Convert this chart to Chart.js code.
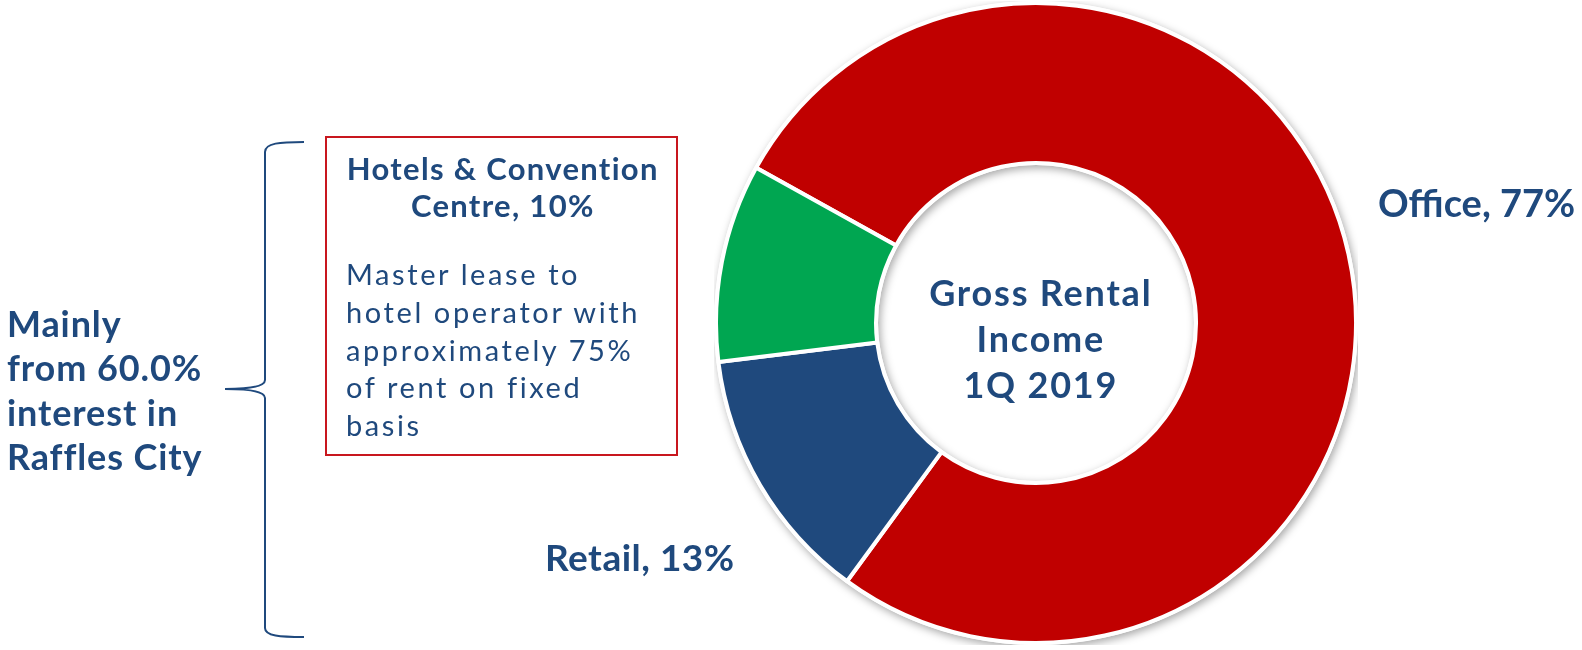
<!DOCTYPE html>
<html>
<head>
<meta charset="utf-8">
<script src="https://cdn.jsdelivr.net/npm/chart.js@4.4.1/dist/chart.umd.min.js"></script>
<style>
  html, body { margin: 0; padding: 0; background: #fff; overflow: hidden; }
  body { width: 1582px; height: 650px; position: relative; font-family: Lato, "Open Sans", sans-serif; color: #1F497D; }
  .abs { position: absolute; white-space: nowrap; }
  #chartBox { position: absolute; left: 714px; top: 1px; width: 644px; height: 644px; }
  #office { left: 1378px; top: 183px; font-size: 38px; line-height: 38px; font-weight: 700; }
  #retail { left: 545px; top: 538px; font-size: 37px; line-height: 37px; font-weight: 700; letter-spacing: 0.5px; }
  #center { left: 889px; top: 269px; width: 300px; padding-left: 1.8px; text-align: center; font-size: 36px; line-height: 46px; font-weight: 700; letter-spacing: 1.8px; }
  #note { left: 325px; top: 136px; width: 353px; height: 320px; box-sizing: border-box; border: 2px solid #C8171E; }
  #noteHead { left: 327px; top: 149.5px; width: 349px; padding-left: 1.3px; text-align: center; font-size: 31px; line-height: 37px; font-weight: 700; letter-spacing: 1.3px; }
  #noteBody { left: 346px; top: 255px; font-size: 29px; line-height: 37.75px; font-weight: 400; letter-spacing: 2.6px; }
  #side { left: 7px; top: 301px; font-size: 36px; line-height: 44.3px; font-weight: 700; letter-spacing: 0.9px; }
  #brace { position: absolute; left: 0; top: 0; }
</style>
</head>
<body>
<div id="chartBox"><canvas id="incomeChart"></canvas></div>

<svg id="brace" width="1582" height="650">
  <path d="M304,142 C280,142 265,143 265,152 L265,380 C265,386 250,389 225,389 C250,389 265,392 265,398 L265,628 C265,636 280,637 304,637"
        fill="none" stroke="#1F497D" stroke-width="2"/>
</svg>

<div class="abs" id="side">Mainly<br>from 60.0%<br>interest in<br>Raffles City</div>
<div class="abs" id="note"></div>
<div class="abs" id="noteHead">Hotels &amp; Convention<br>Centre, 10%</div>
<div class="abs" id="noteBody">Master lease to<br>hotel operator with<br>approximately 75%<br>of rent on fixed<br>basis</div>
<div class="abs" id="center">Gross Rental<br>Income<br>1Q 2019</div>
<div class="abs" id="office">Office, 77%</div>
<div class="abs" id="retail">Retail, 13%</div>

<script>
// Gross rental income split, 1Q 2019 (%)
const categories = ['Office', 'Retail', 'Hotels & Convention Centre'];
const shares = [77, 13, 10];
const sliceColors = ['#C00000', '#1F497D', '#00A651'];

// soft drop shadow behind the ring
const ringShadow = {
    id: 'ringShadow',
    beforeDatasetsDraw(chart) {
        const arc = chart.getDatasetMeta(0).data[0];
        if (!arc) return;
        const ctx = chart.ctx;
        ctx.save();
        ctx.shadowColor = 'rgba(0,0,0,0.35)';
        ctx.shadowBlur = 8;
        ctx.shadowOffsetX = 2;
        ctx.shadowOffsetY = 3;
        ctx.fillStyle = '#fff';
        ctx.beginPath();
        ctx.arc(arc.x, arc.y, arc.outerRadius + 2, 0, Math.PI * 2);
        ctx.arc(arc.x, arc.y, arc.innerRadius - 2, 0, Math.PI * 2, true);
        ctx.fill();
        ctx.restore();
    }
};

new Chart(document.getElementById('incomeChart').getContext('2d'), {
    type: 'doughnut',
    data: {
        labels: categories,
        datasets: [{
            data: shares,
            backgroundColor: sliceColors,
            borderColor: '#ffffff',
            borderWidth: 4
        }]
    },
    options: {
        responsive: true,
        maintainAspectRatio: false,
        animation: false,
        cutout: '50%',
        rotation: -61,
        layout: { padding: 0 },
        plugins: {
            legend: { display: false },
            tooltip: { enabled: false }
        }
    },
    plugins: [ringShadow]
});
</script>
</body>
</html>
